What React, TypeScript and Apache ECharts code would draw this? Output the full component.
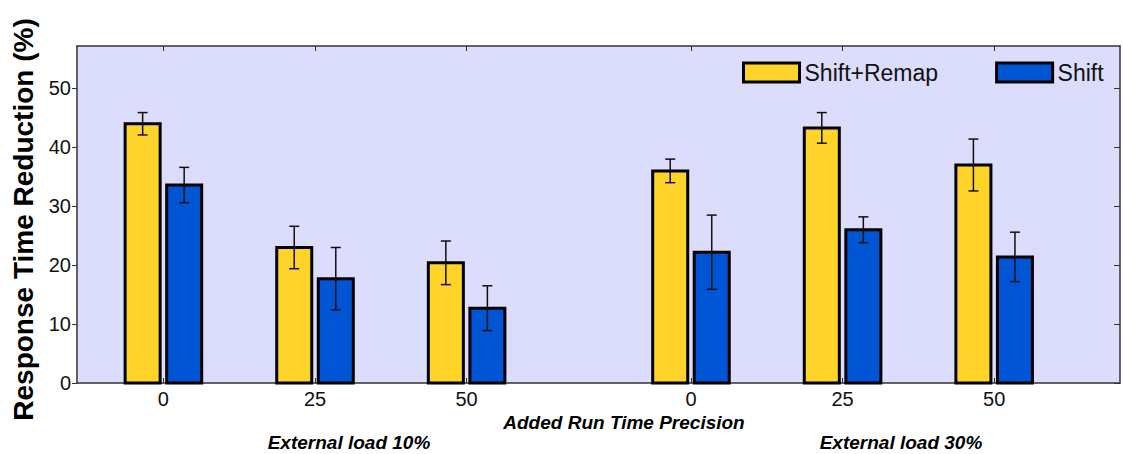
import React, { useEffect, useRef } from "react";
import * as echarts from "echarts";

// ---- data ----
const groupLabels = ["0", "25", "50", "0", "25", "50"];
const groupPos = [0, 1, 2, 3.48, 4.48, 5.48];
const seriesNames = ["Shift+Remap", "Shift"];
const shiftRemap = [44.0, 23.0, 20.4, 36.0, 43.3, 37.0];
const shiftRemapErr = [1.9, 3.6, 3.7, 2.0, 2.6, 4.4];
const shift = [33.6, 17.7, 12.7, 22.2, 26.0, 21.4];
const shiftErr = [3.0, 5.3, 3.8, 6.3, 2.2, 4.2];
const yTicks = [0, 10, 20, 30, 40, 50];

const YELLOW = "#FFD42A";
const BLUE = "#0055D4";
const BG = "#DCDCFC";
const FONT = "'Liberation Sans', Arial, Helvetica, sans-serif";

const BAR_W = 0.231; // in x-axis units
const OFFSET = 0.137;

function labelFor(v: number) {
  for (let i = 0; i < groupPos.length; i++) {
    if (Math.abs(groupPos[i] - v) < 1e-6) return groupLabels[i];
  }
  return "";
}

function makeSeries(name: string, vals: number[], errs: number[], color: string, off: number) {
  const data = groupPos.map((x, i) => [x, vals[i], errs[i]]);
  return {
    name,
    type: "custom",
    xAxisIndex: 0,
    yAxisIndex: 0,
    itemStyle: { color, borderColor: "#000", borderWidth: 3 },
    data,
    renderItem: (params: any, api: any) => {
      const x = api.value(0);
      const y = api.value(1);
      const e = api.value(2);
      const unit = api.size([1, 0])[0];
      const top = api.coord([x, y]);
      const base = api.coord([x, 0]);
      const cx = top[0] + off * unit;
      const w = BAR_W * unit;
      const eTop = api.coord([x, y + e])[1];
      const eBot = api.coord([x, y - e])[1];
      const cap = 5;
      return {
        type: "group",
        children: [
          {
            type: "rect",
            shape: { x: cx - w / 2, y: top[1], width: w, height: base[1] - top[1] },
            style: { fill: color, stroke: "#000", lineWidth: 3 },
          },
          {
            type: "line",
            shape: { x1: cx, y1: eTop, x2: cx, y2: eBot },
            style: { stroke: "#111", lineWidth: 1.5 },
          },
          {
            type: "line",
            shape: { x1: cx - cap, y1: eTop, x2: cx + cap, y2: eTop },
            style: { stroke: "#111", lineWidth: 1.5 },
          },
          {
            type: "line",
            shape: { x1: cx - cap, y1: eBot, x2: cx + cap, y2: eBot },
            style: { stroke: "#111", lineWidth: 1.5 },
          },
        ],
      };
    },
  };
}

export default function App() {
  const ref = useRef<HTMLDivElement>(null);
  useEffect(() => {
    if (!ref.current) return;
    const chart = echarts.init(ref.current, null, { renderer: "svg" });
    const axisLineStyle = { color: "#333", width: 1.5 };
    const option: any = {
      animation: false,
      backgroundColor: "#fff",
      grid: {
        left: 77,
        right: 3,
        top: 46,
        bottom: 71,
        show: true,
        backgroundColor: BG,
        borderWidth: 0,
      },
      legend: {
        left: 742,
        top: 61,
        padding: 0,
        itemWidth: 56,
        itemHeight: 19,
        itemGap: 57,
        textStyle: { fontSize: 23, fontFamily: FONT, color: "#111" },
        data: [
          { name: seriesNames[0], icon: "rect", itemStyle: { color: YELLOW, borderColor: "#000", borderWidth: 3 } },
          { name: seriesNames[1], icon: "rect", itemStyle: { color: BLUE, borderColor: "#000", borderWidth: 3 } },
        ],
      },
      xAxis: [
        {
          type: "value",
          min: -0.57,
          max: 6.31,
          position: "bottom",
          axisLine: { show: true, onZero: false, lineStyle: axisLineStyle },
          axisTick: { show: true, inside: true, length: 5, customValues: groupPos, lineStyle: { color: "#333" } },
          axisLabel: {
            show: true,
            customValues: groupPos,
            formatter: (v: number) => labelFor(v),
            fontSize: 20,
            fontFamily: FONT,
            color: "#111",
            margin: 6,
          },
          splitLine: { show: false },
        },
        {
          type: "value",
          min: -0.57,
          max: 6.31,
          position: "top",
          axisLine: { show: true, onZero: false, lineStyle: axisLineStyle },
          axisTick: { show: true, inside: true, length: 5, customValues: groupPos, lineStyle: { color: "#333" } },
          axisLabel: { show: false },
          splitLine: { show: false },
        },
      ],
      yAxis: [
        {
          type: "value",
          min: 0,
          max: 57.2,
          interval: 10,
          position: "left",
          name: "Response Time Reduction (%)",
          nameLocation: "middle",
          nameGap: 39,
          nameTextStyle: {
            fontSize: 28,
            fontWeight: "bold",
            fontFamily: FONT,
            color: "#000",
            padding: [0, 10, 0, 0],
          },
          axisLine: { show: true, onZero: false, lineStyle: axisLineStyle },
          axisTick: { show: true, length: 5, customValues: yTicks, lineStyle: { color: "#333" } },
          axisLabel: {
            customValues: yTicks,
            fontSize: 20,
            fontFamily: FONT,
            color: "#111",
            margin: 6,
          },
          splitLine: { show: false },
        },
        {
          type: "value",
          min: 0,
          max: 57.2,
          interval: 10,
          position: "right",
          axisLine: { show: true, onZero: false, lineStyle: axisLineStyle },
          axisTick: { show: true, inside: true, length: 6, customValues: yTicks, lineStyle: { color: "#333" } },
          axisLabel: { show: false },
          splitLine: { show: false },
        },
      ],
      graphic: [
        {
          type: "text",
          x: 624,
          y: 422,
          style: {
            text: "Added Run Time Precision",
            fontSize: 19,
            fontWeight: "bold",
            fontStyle: "italic",
            fontFamily: FONT,
            fill: "#000",
            align: "center",
            verticalAlign: "middle",
          },
        },
        {
          type: "text",
          x: 349,
          y: 442,
          style: {
            text: "External load 10%",
            fontSize: 19,
            fontWeight: "bold",
            fontStyle: "italic",
            fontFamily: FONT,
            fill: "#000",
            align: "center",
            verticalAlign: "middle",
          },
        },
        {
          type: "text",
          x: 901,
          y: 442,
          style: {
            text: "External load 30%",
            fontSize: 19,
            fontWeight: "bold",
            fontStyle: "italic",
            fontFamily: FONT,
            fill: "#000",
            align: "center",
            verticalAlign: "middle",
          },
        },
      ],
      series: [
        makeSeries(seriesNames[0], shiftRemap, shiftRemapErr, YELLOW, -OFFSET),
        makeSeries(seriesNames[1], shift, shiftErr, BLUE, OFFSET),
      ],
    };
    chart.setOption(option);
    return () => chart.dispose();
  }, []);
  return <div ref={ref} style={{ width: 1123, height: 454, position: "absolute", left: 0, top: 0 }} />;
}
